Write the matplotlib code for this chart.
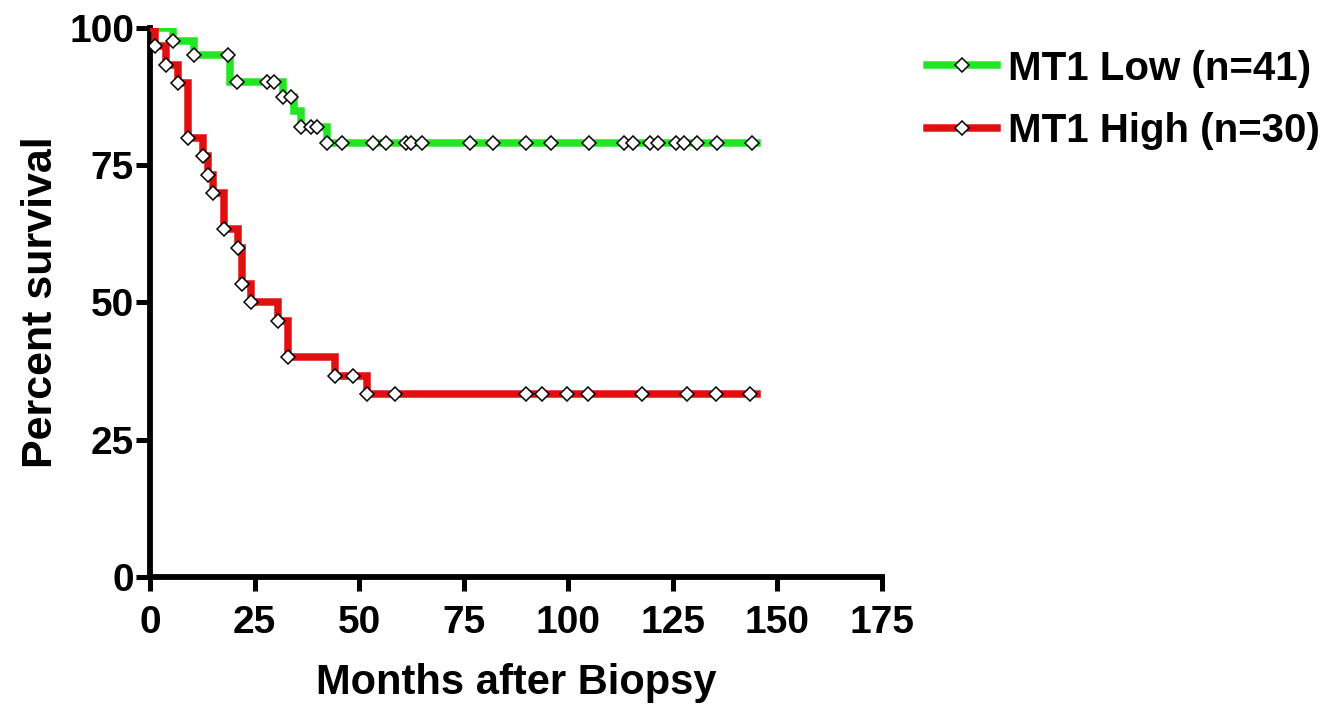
import matplotlib.pyplot as plt
import numpy as np

plt.rcParams['font.family'] = ['Liberation Sans', 'DejaVu Sans']
plt.rcParams['font.weight'] = 'bold'

# MT1 Low (n=41): step times (months) and survival (%)
low_times = [0, 5.6, 10.4, 19.1, 31.9, 34.3, 36.0, 42.4, 145]
low_surv = [100, 97.6, 95.1, 90.2, 87.5, 84.8, 82.0, 79.0, 79.0]
low_marks = [5.6, 10.4, 18.7, 20.9, 27.9, 29.7, 31.9, 33.8, 36.0, 38.5, 40.0,
             42.4, 45.9, 53.4, 56.5, 61.2, 62.4, 65.0, 76.6, 82.0, 90.0, 95.9,
             104.9, 113.2, 115.4, 119.6, 121.4, 125.8, 127.6, 130.8, 135.6, 144.0]

# MT1 High (n=30)
high_times = [0, 1.2, 3.8, 6.8, 9.0, 12.7, 13.9, 15.1, 17.6, 21.0, 22.0, 24.2,
              30.7, 33.0, 44.3, 51.8, 145]
high_surv = [100, 96.7, 93.3, 90.0, 80.0, 76.7, 73.3, 70.0, 63.3, 60.0, 53.3,
             50.0, 46.7, 40.0, 36.7, 33.3, 33.3]
high_marks = [1.2, 3.8, 6.8, 9.0, 12.7, 13.9, 15.1, 17.6, 21.0, 22.0, 24.2, 30.7,
              33.0, 44.3, 48.6, 51.8, 58.6, 90.0, 93.7, 99.7, 104.6, 117.6,
              128.4, 135.2, 143.5]

labels = ['MT1 Low (n=41)', 'MT1 High (n=30)']
colors = ['#22e622', '#e01010']


def surv_at(times, surv, t):
    i = np.searchsorted(times, t, side='right') - 1
    return np.array(surv)[i]


fig = plt.figure(figsize=(13.3, 7.08), dpi=100)
ax = fig.add_axes([0.1128, 0.185, 0.5504, 0.7755])

series = [(low_times, low_surv, low_marks), (high_times, high_surv, high_marks)]
for k, (t, s, m) in enumerate(series):
    ax.step(t, s, where='post', color=colors[k], lw=5.4, zorder=2 + k,
            solid_joinstyle='miter')
    ax.plot(m, surv_at(t, s, m), ls='none', marker='D', ms=7, mfc='white',
            mec='black', mew=1.1, zorder=4)

# legend handles
handles = [plt.Line2D([0, 1], [0, 0], color=c, lw=5.4, marker='D', ms=7,
                      mfc='white', mec='black', mew=1.1, markevery=[1])
           for c in colors]
fig.legend(handles, labels, loc='upper left', bbox_to_anchor=(0.697, 0.93),
           frameon=False, fontsize=29, handlelength=1.75, handletextpad=0.25,
           labelspacing=0.6, borderpad=0, borderaxespad=0)

ax.set_xlim(0, 175)
ax.set_ylim(0, 100)
ax.set_xticks([0, 25, 50, 75, 100, 125, 150, 175])
ax.set_yticks([0, 25, 50, 75, 100])
for sp in ['top', 'right']:
    ax.spines[sp].set_visible(False)
for sp in ['left', 'bottom']:
    ax.spines[sp].set_linewidth(4.2)
ax.tick_params(width=3.6, length=10, labelsize=28)
ax.tick_params(axis='x', pad=10)
ax.tick_params(axis='y', pad=1.5)
ax.set_xlabel('Months after Biopsy', fontsize=30, fontweight='bold', labelpad=16)
ax.set_ylabel('Percent survival', fontsize=31, fontweight='bold', labelpad=6)

fig.savefig('out.png', dpi=100)
